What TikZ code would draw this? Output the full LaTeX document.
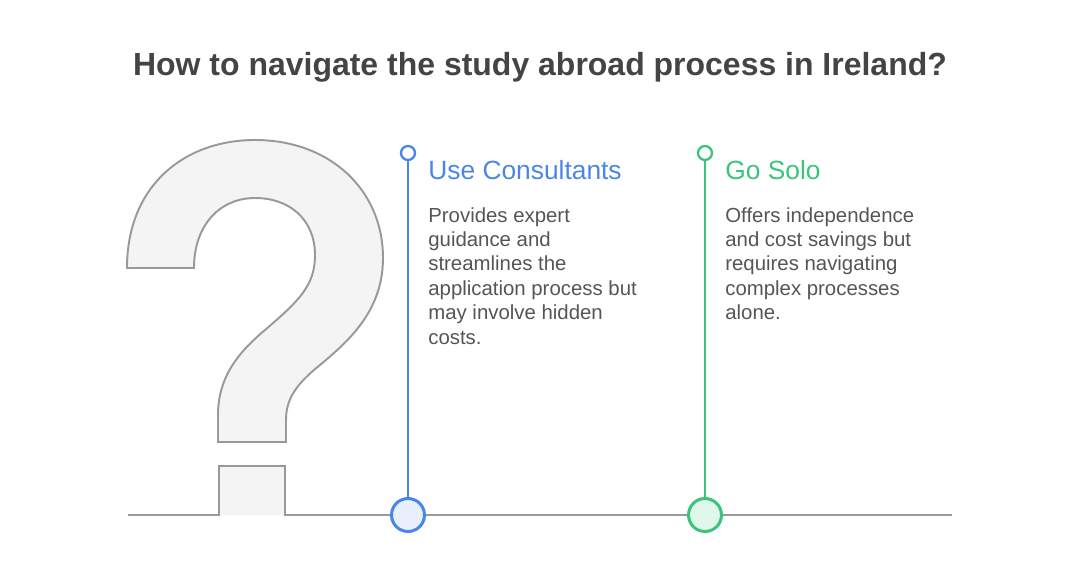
\documentclass[tikz,border=0pt]{standalone}
\usepackage{fontspec}
\setmainfont{Liberation Sans}
\usetikzlibrary{positioning}

\definecolor{titlegray}{HTML}{444444}
\definecolor{textgray}{HTML}{555555}
\definecolor{linegray}{HTML}{999999}
\definecolor{markfill}{HTML}{F4F4F4}
\definecolor{consblue}{HTML}{4A86E8}
\definecolor{consfill}{HTML}{E8F0FE}
\definecolor{sologreen}{HTML}{3CC47C}
\definecolor{solofill}{HTML}{E0F8EC}

\tikzset{
  heading/.style={anchor=base west, inner sep=0pt, font=\fontsize{15}{18}\selectfont},
  bodytext/.style={anchor=north west, inner sep=0pt, align=left, text=textgray, font=\fontsize{11.6}{13.9}\selectfont},
  topdot/.style={circle, draw=#1, fill=white, line width=1.3pt, minimum size=0.28cm, inner sep=0pt},
  basedot/.style={circle, draw=#1, line width=1.7pt, minimum size=0.66cm, inner sep=0pt},
  stem/.style={draw=#1, line width=1.4pt}
}

\begin{document}
\begin{tikzpicture}[x=0.02cm, y=-0.02cm]
\useasboundingbox (0,0) rectangle (1080,565);

\node[font=\bfseries\fontsize{18.2}{22}\selectfont, text=titlegray, anchor=base] (title) at (540,75) {How to navigate the study abroad process in Ireland?};

% question mark
\draw[linegray, fill=markfill, line width=1.1pt] (127,268) .. controls (127,185) and (185,140) .. (255,140)
  .. controls (330,140) and (383,190) .. (383,258)
  .. controls (383,310) and (350,340) .. (320,365)
  .. controls (295,385) and (286,400) .. (286,420) -- (286,442) -- (218,442) -- (218,415)
  .. controls (218,380) and (235,355) .. (265,330)
  .. controls (300,300) and (315,285) .. (315,255)
  .. controls (315,220) and (290,198) .. (255,198)
  .. controls (220,198) and (194,225) .. (194,268) -- cycle;
\fill[markfill] (219,466) rectangle (285,515);
\draw[linegray, line width=1.4pt] (128,515) -- (219,515) -- (219,466) -- (285,466) -- (285,515) -- (952,515);

% use consultants
\node[topdot=consblue] (consTop) at (408,153) {};
\node[basedot=consblue, fill=consfill] (consBase) at (408,515) {};
\draw[stem=consblue] (consTop) -- (consBase);
\node[heading, text=consblue] (consHead) at (428,179) {Use Consultants};
\node[bodytext] (consBody) at (428,207) {Provides expert\\guidance and\\streamlines the\\application process but\\may involve hidden\\costs.};

% go solo
\node[topdot=sologreen] (soloTop) at (705,153) {};
\node[basedot=sologreen, fill=solofill] (soloBase) at (705,515) {};
\draw[stem=sologreen] (soloTop) -- (soloBase);
\node[heading, text=sologreen] (soloHead) at (725,179) {Go Solo};
\node[bodytext] (soloBody) at (725,207) {Offers independence\\and cost savings but\\requires navigating\\complex processes\\alone.};
\end{tikzpicture}
\end{document}
